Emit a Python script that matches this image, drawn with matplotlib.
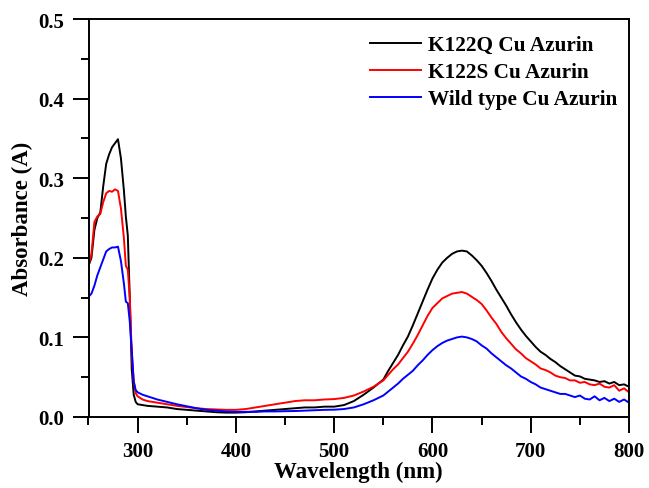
import matplotlib
matplotlib.use("Agg")
import matplotlib.pyplot as plt
from matplotlib.ticker import MultipleLocator

plt.rcParams['font.family'] = ['Liberation Serif', 'DejaVu Serif']
plt.rcParams['font.weight'] = 'bold'

wavelength = [250, 253, 256, 259, 262, 265, 268, 271, 274, 277, 280, 283, 286, 288, 290, 292, 294, 296, 298, 300,
              305, 310, 320, 330, 340, 350, 360, 370, 380, 390, 400, 410, 420, 430, 440, 450, 460, 470, 480, 490,
              500, 510, 520, 530, 540, 550, 555, 560, 565, 570, 575, 580, 585, 590, 595, 600, 605, 610, 615, 620,
              625, 630, 635, 640, 645, 650, 655, 660, 665, 670, 675, 680, 685, 690, 695, 700, 705, 710, 715, 720,
              725, 730, 735, 740, 745, 750, 755, 760, 765, 770, 775, 780, 785, 790, 795, 800]

k122q = [0.190, 0.200, 0.235, 0.250, 0.257, 0.290, 0.318, 0.330, 0.339, 0.344, 0.349, 0.325, 0.285, 0.252, 0.228, 0.150, 0.060, 0.028, 0.019, 0.016,
         0.015, 0.014, 0.013, 0.012, 0.010, 0.009, 0.008, 0.007, 0.006, 0.0055, 0.0055, 0.006, 0.007, 0.008, 0.009, 0.010, 0.011, 0.012, 0.012, 0.013,
         0.013, 0.015, 0.020, 0.028, 0.037, 0.047, 0.058, 0.068, 0.078, 0.090, 0.101, 0.115, 0.130, 0.145, 0.160, 0.174, 0.185, 0.194, 0.200, 0.205,
         0.208, 0.209, 0.208, 0.203, 0.197, 0.190, 0.181, 0.171, 0.160, 0.150, 0.140, 0.129, 0.119, 0.110, 0.102, 0.095, 0.088, 0.082, 0.078, 0.073,
         0.069, 0.064, 0.060, 0.056, 0.052, 0.051, 0.048, 0.047, 0.046, 0.044, 0.045, 0.042, 0.044, 0.040, 0.041, 0.038]

k122s = [0.190, 0.205, 0.245, 0.252, 0.255, 0.270, 0.281, 0.284, 0.283, 0.286, 0.284, 0.262, 0.225, 0.190, 0.185, 0.150, 0.080, 0.045, 0.030, 0.026,
         0.022, 0.020, 0.018, 0.016, 0.014, 0.0125, 0.011, 0.010, 0.0095, 0.009, 0.009, 0.010, 0.012, 0.014, 0.016, 0.018, 0.020, 0.021, 0.021, 0.022,
         0.0225, 0.024, 0.027, 0.032, 0.038, 0.046, 0.053, 0.060, 0.066, 0.074, 0.082, 0.092, 0.103, 0.115, 0.127, 0.137, 0.143, 0.149, 0.152, 0.155,
         0.156, 0.157, 0.155, 0.151, 0.147, 0.142, 0.134, 0.125, 0.117, 0.107, 0.099, 0.092, 0.085, 0.080, 0.074, 0.070, 0.066, 0.061, 0.059, 0.056,
         0.052, 0.050, 0.049, 0.046, 0.046, 0.043, 0.044, 0.041, 0.040, 0.042, 0.038, 0.037, 0.040, 0.033, 0.036, 0.031]

wild_type = [0.151, 0.155, 0.165, 0.178, 0.188, 0.198, 0.208, 0.211, 0.213, 0.213, 0.214, 0.196, 0.168, 0.145, 0.143, 0.120, 0.085, 0.045, 0.034, 0.031,
             0.028, 0.026, 0.022, 0.019, 0.016, 0.0135, 0.011, 0.009, 0.008, 0.007, 0.0065, 0.0065, 0.0065, 0.007, 0.007, 0.0073, 0.0075, 0.008, 0.0085, 0.009,
             0.0092, 0.010, 0.012, 0.016, 0.021, 0.027, 0.032, 0.037, 0.042, 0.048, 0.053, 0.058, 0.065, 0.071, 0.078, 0.084, 0.089, 0.093, 0.096, 0.098,
             0.100, 0.101, 0.100, 0.098, 0.095, 0.090, 0.086, 0.080, 0.075, 0.070, 0.065, 0.061, 0.056, 0.051, 0.048, 0.044, 0.041, 0.037, 0.035, 0.033,
             0.031, 0.029, 0.029, 0.027, 0.025, 0.027, 0.023, 0.022, 0.026, 0.021, 0.024, 0.020, 0.023, 0.019, 0.022, 0.018]

labels = ["K122Q Cu Azurin", "K122S Cu Azurin", "Wild type Cu Azurin"]
colors = ["#000000", "#ff0000", "#0000ff"]

W, H = 649, 489
fig = plt.figure(figsize=(W / 100, H / 100), dpi=100)
ax = fig.add_axes([88.5 / W, (H - 418) / H, (629 - 88.5) / W, (418 - 20) / H])

for series, lab, col in zip([k122q, k122s, wild_type], labels, colors):
    ax.plot(wavelength, series, color=col, lw=1.4, label=lab)

ax.set_xlim(250, 800)
ax.set_ylim(0.0, 0.5)
ax.xaxis.set_minor_locator(MultipleLocator(50))
ax.yaxis.set_minor_locator(MultipleLocator(0.05))
ax.set_xticks([300, 400, 500, 600, 700, 800])
ax.set_yticks([0.0, 0.1, 0.2, 0.3, 0.4, 0.5])
ax.set_yticklabels(["0.0", "0.1", "0.2", "0.3", "0.4", "0.5"])

ax.tick_params(which='major', direction='out', length=11.5, width=1.4, labelsize=15)
ax.tick_params(which='minor', direction='out', length=6, width=1.4)
ax.tick_params(axis='x', which='major', pad=6)
ax.tick_params(axis='y', which='major', pad=6)
for lbl in ax.get_xticklabels() + ax.get_yticklabels():
    lbl.set_fontweight('bold')
for sp in ax.spines.values():
    sp.set_linewidth(1.4)

ax.set_xlabel("Wavelength (nm)", fontsize=16.5, fontweight='bold', labelpad=0)
ax.set_ylabel("Absorbance (A)", fontsize=16.5, fontweight='bold', labelpad=4)

leg = ax.legend(loc='upper right', frameon=False, handlelength=2.4,
                handletextpad=0.3, labelspacing=0.33, borderpad=0, borderaxespad=0,
                bbox_to_anchor=(617 / W, 1 - 36 / H), bbox_transform=fig.transFigure,
                prop={'weight': 'bold', 'size': 15.3})

fig.savefig("out.png", dpi=100)
